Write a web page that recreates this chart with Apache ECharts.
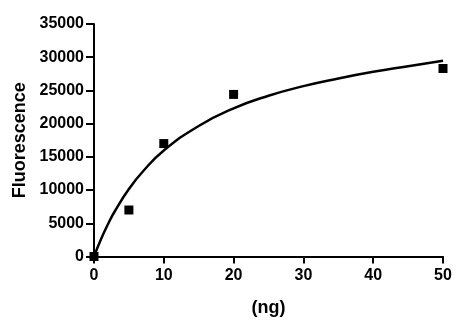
<!DOCTYPE html>
<html>
<head>
<meta charset="utf-8">
<script src="https://cdn.jsdelivr.net/npm/echarts@6/dist/echarts.min.js"></script>
<style>
  html, body { margin: 0; padding: 0; background: #fff; }
  #chart { width: 465px; height: 330px; }
</style>
</head>
<body>
<div id="chart"></div>
<script>
// measured points (ng, fluorescence)
const doseNg = [0, 5, 10, 20, 50]
const fluorescence = [0, 7000, 17000, 24400, 28300]

// fitted curve
const curveX = [0, 1, 2, 3, 5, 7, 10, 15, 20, 25, 30, 35, 40, 45, 50]
const curveY = [0, 2600, 4850, 6850, 10150, 12800, 15950, 19650, 22300, 24200, 25650, 26800, 27800, 28650, 29480]

const xTicks = [0, 10, 20, 30, 40, 50]
const yTicks = [0, 5000, 10000, 15000, 20000, 25000, 30000, 35000]

const chart = echarts.init(document.getElementById('chart'))

const labelFont = {
  color: '#000',
  fontFamily: 'Liberation Sans, Arial, sans-serif',
  fontWeight: 'bold',
  fontSize: 16
}

const option = {
  animation: false,
  grid: {
    left: 94,
    right: 22,
    top: 24,
    bottom: 73.5
  },
  xAxis: {
    type: 'value',
    min: xTicks[0],
    max: xTicks[xTicks.length - 1],
    interval: 10,
    name: '(ng)',
    nameLocation: 'middle',
    nameGap: 43,
    nameTextStyle: Object.assign({}, labelFont, { fontSize: 18 }),
    axisLine: { lineStyle: { color: '#000', width: 2 } },
    axisTick: { show: true, inside: false, length: 7, lineStyle: { color: '#000', width: 2 } },
    axisLabel: Object.assign({ margin: 11, formatter: v => String(v) }, labelFont),
    splitLine: { show: false }
  },
  yAxis: {
    type: 'value',
    min: yTicks[0],
    max: yTicks[yTicks.length - 1],
    interval: 5000,
    name: 'Fluorescence',
    nameLocation: 'middle',
    nameGap: 62,
    nameTextStyle: Object.assign({}, labelFont, { fontSize: 18 }),
    axisLine: { show: true, lineStyle: { color: '#000', width: 2 } },
    axisTick: { show: true, inside: false, length: 8, lineStyle: { color: '#000', width: 2 } },
    axisLabel: Object.assign({ margin: 10, formatter: v => String(v) }, labelFont),
    splitLine: { show: false }
  },
  series: [
    {
      type: 'line',
      data: curveX.map((x, i) => [x, curveY[i]]),
      smooth: true,
      showSymbol: false,
      lineStyle: { color: '#000', width: 2.5 },
      z: 2
    },
    {
      type: 'scatter',
      data: doseNg.map((x, i) => [x, fluorescence[i]]),
      symbol: 'rect',
      symbolSize: 9,
      itemStyle: { color: '#000', opacity: 1 },
      z: 3
    }
  ]
}

chart.setOption(option)
</script>
</body>
</html>
